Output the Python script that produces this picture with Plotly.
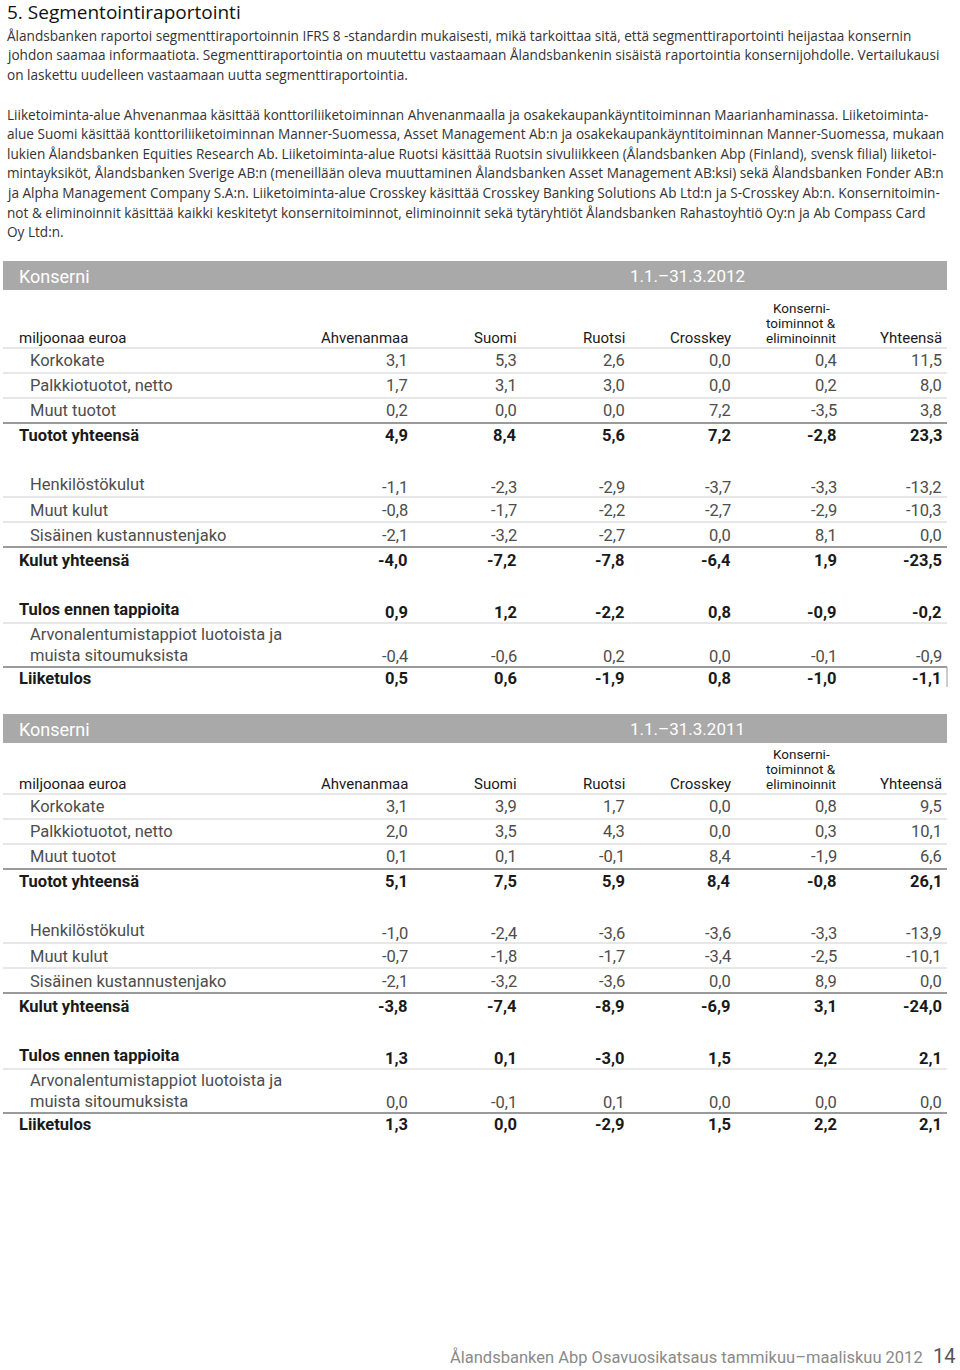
import plotly.graph_objects as go

W, H = 960, 1370

# ---------------- data ----------------
title_text = "5. Segmentointiraportointi"
para1 = [
    "Ålandsbanken raportoi segmenttiraportoinnin IFRS 8 -standardin mukaisesti, mikä tarkoittaa sitä, että segmenttiraportointi heijastaa konsernin",
    "johdon saamaa informaatiota. Segmenttiraportointia on muutettu vastaamaan Ålandsbankenin sisäistä raportointia konsernijohdolle. Vertailukausi",
    "on laskettu uudelleen vastaamaan uutta segmenttiraportointia.",
]
para2 = [
    "Liiketoiminta-alue Ahvenanmaa käsittää konttoriliiketoiminnan Ahvenanmaalla ja osakekaupankäyntitoiminnan Maarianhaminassa. Liiketoiminta-",
    "alue Suomi käsittää konttoriliiketoiminnan Manner-Suomessa, Asset Management Ab:n ja osakekaupankäyntitoiminnan Manner-Suomessa, mukaan",
    "lukien Ålandsbanken Equities Research Ab. Liiketoiminta-alue Ruotsi käsittää Ruotsin sivuliikkeen (Ålandsbanken Abp (Finland), svensk filial) liiketoi-",
    "mintayksiköt, Ålandsbanken Sverige AB:n (meneillään oleva muuttaminen Ålandsbanken Asset Management AB:ksi) sekä Ålandsbanken Fonder AB:n",
    "ja Alpha Management Company S.A:n. Liiketoiminta-alue Crosskey käsittää Crosskey Banking Solutions Ab Ltd:n ja S-Crosskey Ab:n. Konsernitoimin-",
    "not & eliminoinnit käsittää kaikki keskitetyt konsernitoiminnot, eliminoinnit sekä tytäryhtiöt Ålandsbanken Rahastoyhtiö Oy:n ja Ab Compass Card",
    "Oy Ltd:n.",
]

table_title = "Konserni"
periods = ["1.1.–31.3.2012", "1.1.–31.3.2011"]
unit_label = "miljoonaa euroa"
columns = [["Ahvenanmaa"], ["Suomi"], ["Ruotsi"], ["Crosskey"],
           ["Konserni-", "toiminnot &", "eliminoinnit"], ["Yhteensä"]]
row_labels = [
    "Korkokate", "Palkkiotuotot, netto", "Muut tuotot", "Tuotot yhteensä",
    "Henkilöstökulut", "Muut kulut", "Sisäinen kustannustenjako", "Kulut yhteensä",
    "Tulos ennen tappioita",
    "Arvonalentumistappiot luotoista ja<br>muista sitoumuksista",
    "Liiketulos",
]
total_rows = [3, 7, 8, 10]

values_2012 = [
    [3.1, 5.3, 2.6, 0.0, 0.4, 11.5],
    [1.7, 3.1, 3.0, 0.0, 0.2, 8.0],
    [0.2, 0.0, 0.0, 7.2, -3.5, 3.8],
    [4.9, 8.4, 5.6, 7.2, -2.8, 23.3],
    [-1.1, -2.3, -2.9, -3.7, -3.3, -13.2],
    [-0.8, -1.7, -2.2, -2.7, -2.9, -10.3],
    [-2.1, -3.2, -2.7, 0.0, 8.1, 0.0],
    [-4.0, -7.2, -7.8, -6.4, 1.9, -23.5],
    [0.9, 1.2, -2.2, 0.8, -0.9, -0.2],
    [-0.4, -0.6, 0.2, 0.0, -0.1, -0.9],
    [0.5, 0.6, -1.9, 0.8, -1.0, -1.1],
]
values_2011 = [
    [3.1, 3.9, 1.7, 0.0, 0.8, 9.5],
    [2.0, 3.5, 4.3, 0.0, 0.3, 10.1],
    [0.1, 0.1, -0.1, 8.4, -1.9, 6.6],
    [5.1, 7.5, 5.9, 8.4, -0.8, 26.1],
    [-1.0, -2.4, -3.6, -3.6, -3.3, -13.9],
    [-0.7, -1.8, -1.7, -3.4, -2.5, -10.1],
    [-2.1, -3.2, -3.6, 0.0, 8.9, 0.0],
    [-3.8, -7.4, -8.9, -6.9, 3.1, -24.0],
    [1.3, 0.1, -3.0, 1.5, 2.2, 2.1],
    [0.0, -0.1, 0.1, 0.0, 0.0, 0.0],
    [1.3, 0.0, -2.9, 1.5, 2.2, 2.1],
]
tables = [values_2012, values_2011]

footer_text = "Ålandsbanken Abp Osavuosikatsaus tammikuu–maaliskuu 2012"
page_number = "14"

# ---------------- layout / style ----------------
BODY_FONT = "Open Sans, Noto Sans, sans-serif"
COND_FONT = "Roboto, Noto Sans, sans-serif"
BODY_COLOR = "#333333"
LIGHT_TXT = "#4d4d4d"
DARK_TXT = "#1a1a1a"
BAND_COLOR = "#a9a9a9"

col_right = [410, 519, 627, 733, 839, 944]
band_tops = [261, 714]
header_lines = [348, 794]
row_offsets = [12, 37, 62, 87, 139, 162, 187, 212, 264, 308, 330]
label_offsets = [12, 37, 62, 87, 136, 162, 187, 212, 261, 297, 330]
rule_offsets = [(0, False), (25, False), (50, False), (75, True),
                (149, False), (174, False), (199, True), (275, False), (319, True)]
header_line_gap = 15


def fmt(v):
    return f"{v:.1f}".replace(".", ",")


fig = go.Figure()
ann = []
shapes = []

ann.append(dict(x=5, y=12, text=title_text, xanchor="left", yanchor="middle",
                font=dict(family=BODY_FONT, size=19, color="#111111")))
for i, line in enumerate(para1):
    ann.append(dict(x=5, y=35 + i * 19.6, text=line, xanchor="left", yanchor="middle",
                    font=dict(family=BODY_FONT, size=13.6, color=BODY_COLOR)))
for i, line in enumerate(para2):
    ann.append(dict(x=5, y=114 + i * 19.6, text=line, xanchor="left", yanchor="middle",
                    font=dict(family=BODY_FONT, size=13.6, color=BODY_COLOR)))

for t, vals in enumerate(tables):
    bt = band_tops[t]
    hl = header_lines[t]
    shapes.append(dict(type="rect", x0=3, x1=947, y0=bt, y1=bt + 29,
                       fillcolor=BAND_COLOR, line=dict(width=0), layer="below"))
    ann.append(dict(x=17, y=bt + 15, text=table_title, xanchor="left", yanchor="middle",
                    font=dict(family=COND_FONT, size=18, color="#ffffff")))
    ann.append(dict(x=628, y=bt + 15, text=periods[t], xanchor="left", yanchor="middle",
                    font=dict(family=COND_FONT, size=17, color="#ffffff")))
    # header
    ann.append(dict(x=17, y=hl - 10, text=unit_label, xanchor="left", yanchor="middle",
                    font=dict(family=COND_FONT, size=15, color=DARK_TXT)))
    for c, lines in enumerate(columns):
        n = len(lines)
        for k, ln in enumerate(lines):
            yk = hl - 10 - (n - 1 - k) * header_line_gap
            if n > 1:
                ann.append(dict(x=col_right[c] - 38, y=yk, text=ln, xanchor="center",
                                yanchor="middle",
                                font=dict(family=COND_FONT, size=13.5, color=DARK_TXT)))
            else:
                ann.append(dict(x=col_right[c], y=yk, text=ln, xanchor="right",
                                yanchor="middle",
                                font=dict(family=COND_FONT, size=15, color=DARK_TXT)))
    # rules
    for off, dark in rule_offsets:
        shapes.append(dict(type="line", x0=3, x1=947, y0=hl + off, y1=hl + off,
                           line=dict(color="#9a9a9a" if dark else "#d0d0d0",
                                     width=2 if dark else 1.2)))
    if t == 0:
        shapes.append(dict(type="line", x0=947, x1=947, y0=hl + 319, y1=hl + 339,
                           line=dict(color="#9a9a9a", width=1)))
    # rows
    for r, label in enumerate(row_labels):
        is_tot = r in total_rows
        lab = f"<b>{label}</b>" if is_tot else label
        ann.append(dict(x=17 if is_tot else 28, y=hl + label_offsets[r], text=lab,
                        xanchor="left", yanchor="middle", align="left",
                        font=dict(family=COND_FONT, size=16.5,
                                  color=DARK_TXT if is_tot else LIGHT_TXT)))
        for c, v in enumerate(vals[r]):
            txt = f"<b>{fmt(v)}</b>" if is_tot else fmt(v)
            ann.append(dict(x=col_right[c], y=hl + row_offsets[r], text=txt,
                            xanchor="right", yanchor="middle",
                            font=dict(family=COND_FONT, size=16.5,
                                      color=DARK_TXT if is_tot else LIGHT_TXT)))

ann.append(dict(x=925, y=1357, text=footer_text, xanchor="right", yanchor="middle",
                font=dict(family=COND_FONT, size=16.5, color="#8a8a8a")))
ann.append(dict(x=957, y=1356, text=page_number, xanchor="right", yanchor="middle",
                font=dict(family=COND_FONT, size=20, color="#555555")))

for a in ann:
    a.update(xref="x", yref="y", showarrow=False)
for s in shapes:
    s.update(xref="x", yref="y")

fig.update_layout(
    width=W, height=H,
    margin=dict(l=0, r=0, t=0, b=0),
    paper_bgcolor="white", plot_bgcolor="white",
    xaxis=dict(range=[0, W], visible=False, fixedrange=True),
    yaxis=dict(range=[H, 0], visible=False, fixedrange=True),
    annotations=ann, shapes=shapes, showlegend=False,
)
fig.write_html(
    "out.html",
    config={"displayModeBar": False},
    post_script="document.body.style.margin='0';document.body.style.overflow='hidden';",
)
